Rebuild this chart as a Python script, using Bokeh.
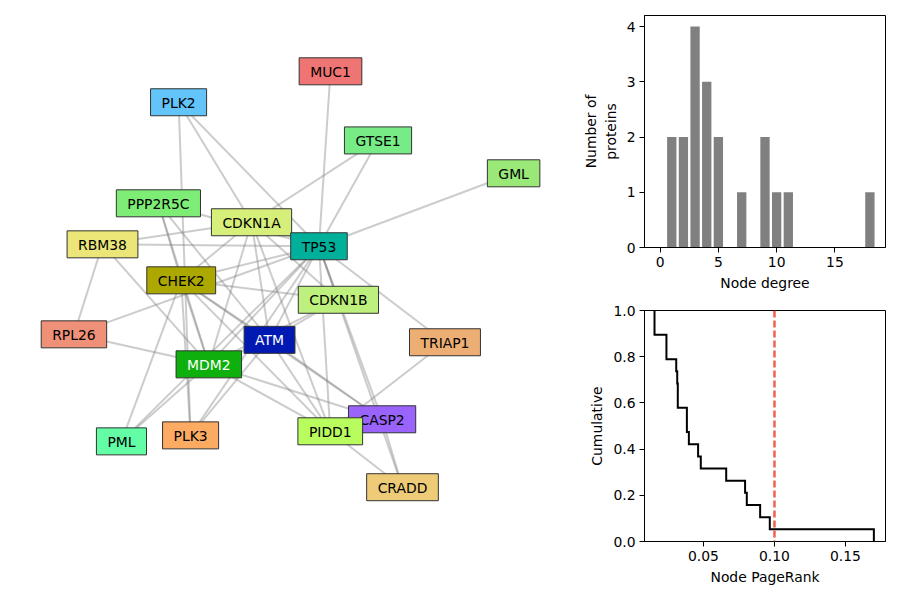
from bokeh.plotting import figure
from bokeh.layouts import row, column
from bokeh.models import Range1d, FixedTicker, PrintfTickFormatter, Span, ColumnDataSource
from bokeh.core.properties import value
from bokeh.embed import file_html
from bokeh.resources import INLINE

# ---------------- data ----------------
node_names = ["MUC1", "PLK2", "GTSE1", "GML", "PPP2R5C", "CDKN1A", "RBM38",
              "CHEK2", "CDKN1B", "RPL26", "TRIAP1", "ATM", "MDM2", "CASP2",
              "PML", "PLK3", "PIDD1", "CRADD", "TP53"]
node_x = [0.175, -0.458, 0.373, 0.938, -0.542, -0.154, -0.775,
          -0.447, 0.208, -0.894, 0.652, -0.079, -0.332, 0.390,
          -0.696, -0.408, 0.174, 0.475, 0.127]
node_y = [0.955, 0.826, 0.667, 0.530, 0.405, 0.326, 0.234,
          0.084, 0.003, -0.141, -0.174, -0.164, -0.266, -0.495,
          -0.587, -0.562, -0.545, -0.778, 0.226]
node_colors = ["#ef7575", "#63c4fa", "#76eb86", "#99e878", "#7ded76", "#d6ee7a", "#ebe677",
               "#aca800", "#bdf07c", "#ef9078", "#edae74", "#0019b3", "#0db00d", "#9a63fb",
               "#63fda6", "#fdaa62", "#b9fc5d", "#eecb77", "#00b09a"]
text_colors = ["black"] * 11 + ["white", "white"] + ["black"] * 6

edges = [
    ("TP53", "MUC1"), ("TP53", "PLK2"), ("TP53", "GTSE1"), ("TP53", "GML"),
    ("TP53", "PPP2R5C"), ("TP53", "CDKN1A"), ("TP53", "RBM38"), ("TP53", "CHEK2"),
    ("TP53", "CDKN1B"), ("TP53", "RPL26"), ("TP53", "TRIAP1"), ("TP53", "ATM"),
    ("TP53", "MDM2"), ("TP53", "CASP2"), ("TP53", "PML"), ("TP53", "PLK3"),
    ("TP53", "PIDD1"), ("TP53", "CRADD"),
    ("PLK2", "PLK3"), ("RPL26", "RBM38"),
    ("GTSE1", "CDKN1A"), ("TRIAP1", "PIDD1"), ("PLK2", "CDKN1A"), ("RPL26", "MDM2"),
    ("PML", "MDM2"), ("PML", "CHEK2"), ("CRADD", "CASP2"), ("CRADD", "PIDD1"),
    ("RBM38", "CDKN1A"), ("RBM38", "MDM2"), ("PPP2R5C", "MDM2"), ("PPP2R5C", "CHEK2"),
    ("PPP2R5C", "ATM"), ("PLK3", "CHEK2"), ("PLK3", "ATM"),
    ("MDM2", "ATM"), ("MDM2", "CHEK2"), ("MDM2", "CDKN1A"), ("MDM2", "CDKN1B"),
    ("MDM2", "PIDD1"), ("MDM2", "CASP2"), ("ATM", "CHEK2"), ("ATM", "CDKN1A"),
    ("ATM", "CDKN1B"), ("ATM", "PIDD1"), ("ATM", "CASP2"), ("CHEK2", "CDKN1A"),
    ("CHEK2", "CDKN1B"), ("CHEK2", "PIDD1"), ("CHEK2", "CASP2"), ("CDKN1A", "CDKN1B"),
    ("CDKN1A", "PIDD1"),
]

degree_values = [1, 2, 3, 4, 5, 7, 9, 10, 11, 18]
degree_counts = [2, 2, 4, 3, 2, 1, 2, 1, 1, 1]

pagerank_values = [0.0155, 0.0155, 0.0239, 0.0239, 0.0308, 0.0315, 0.0319, 0.0319,
                   0.0383, 0.0383, 0.0397, 0.0462, 0.0481, 0.066, 0.0793, 0.0805,
                   0.0899, 0.0967, 0.170]
pagerank_threshold = 0.10

FONT = "DejaVu Sans"
FS = "13.9px"

# ---------------- network ----------------
net = figure(width=568, height=592, x_range=Range1d(-1.2, 1.1667),
             y_range=Range1d(-1.2167, 1.25), toolbar_location=None,
             output_backend="svg", min_border=0)
net.axis.visible = False
net.grid.visible = False
net.outline_line_color = None

pos = {n: (x, y) for n, x, y in zip(node_names, node_x, node_y)}
exs = [[pos[a][0], pos[b][0]] for a, b in edges]
eys = [[pos[a][1], pos[b][1]] for a, b in edges]
net.multi_line(exs, eys, line_color="gray", line_alpha=0.4, line_width=2)

src = ColumnDataSource(dict(x=node_x, y=node_y, name=node_names,
                            fill=node_colors, tcol=text_colors))
net.text(x="x", y="y", text="name", source=src, text_align="center",
         text_baseline="middle", text_font=value(FONT), text_font_size=value(FS),
         text_color="tcol", background_fill_color="fill", background_fill_alpha=1.0,
         border_line_color="#333333", border_line_width=1,
         padding=dict(left=11, right=11, top=6, bottom=5))


def style(p):
    p.outline_line_color = "black"
    p.outline_line_width = 1
    p.xgrid.visible = False
    p.ygrid.visible = False
    for ax in p.axis:
        ax.axis_line_color = "black"
        ax.major_tick_line_color = "black"
        ax.minor_tick_line_color = None
        ax.major_tick_out = 5
        ax.major_tick_in = 0
        ax.major_label_text_font = FONT
        ax.major_label_text_font_size = FS
        ax.major_label_text_color = "black"
        ax.axis_label_text_font = FONT
        ax.axis_label_text_font_size = FS
        ax.axis_label_text_font_style = "normal"
        ax.axis_label_text_color = "black"
        ax.major_label_standoff = 4
        ax.axis_label_standoff = 5


# ---------------- histogram ----------------
hist = figure(frame_width=241, frame_height=232, min_border_left=76, min_border_right=7,
              min_border_top=15, min_border_bottom=50, x_range=Range1d(-1.34, 19.34),
              y_range=Range1d(0, 4.2), toolbar_location=None, output_backend="svg")
hist.vbar(x=degree_values, top=degree_counts, width=0.8, fill_color="#808080", line_color=None)
style(hist)
hist.xaxis.ticker = FixedTicker(ticks=[0, 5, 10, 15])
hist.yaxis.ticker = FixedTicker(ticks=[0, 1, 2, 3, 4])
hist.xaxis.axis_label = "Node degree"
hist.yaxis.axis_label = "Number of\nproteins"

# ---------------- ECDF ----------------
n = len(pagerank_values)
vals = sorted(pagerank_values)
sx, sy = [vals[0]], [1.0]
for i, v in enumerate(vals):
    sx.append(v)
    sy.append(1.0 - (i + 1) / n)
    if i + 1 < n:
        sx.append(vals[i + 1])
        sy.append(1.0 - (i + 1) / n)

ecdf = figure(frame_width=241, frame_height=231, min_border_left=76, min_border_right=7,
              min_border_top=13, min_border_bottom=51, x_range=Range1d(0.00845, 0.1782),
              y_range=Range1d(0, 1.0), toolbar_location=None, output_backend="svg")
ecdf.line(sx, sy, line_color="black", line_width=2, line_join="miter")
ecdf.add_layout(Span(location=pagerank_threshold, dimension="height", line_color="#f0604a",
                     line_width=2.5, line_dash="7 3"))
style(ecdf)
ecdf.xaxis.ticker = FixedTicker(ticks=[0.05, 0.10, 0.15])
ecdf.xaxis.formatter = PrintfTickFormatter(format="%.2f")
ecdf.yaxis.ticker = FixedTicker(ticks=[0.0, 0.2, 0.4, 0.6, 0.8, 1.0])
ecdf.yaxis.formatter = PrintfTickFormatter(format="%.1f")
ecdf.xaxis.axis_label = "Node PageRank"
ecdf.yaxis.axis_label = "Cumulative"

layout = row(net, column(hist, ecdf, spacing=0), spacing=0)
open("out.html", "w").write(file_html(layout, INLINE))
